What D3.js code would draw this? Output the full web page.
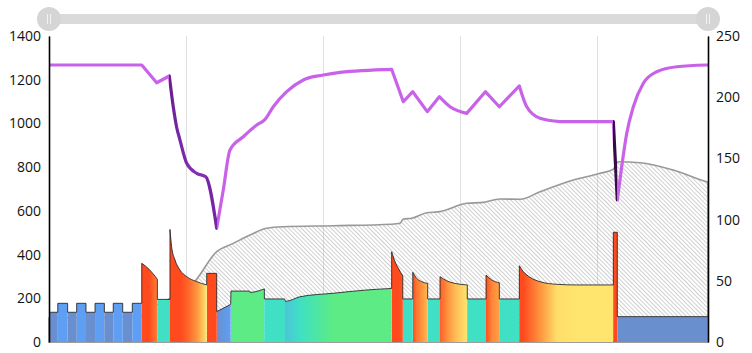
<!DOCTYPE html>
<html>
<head>
<meta charset="utf-8">
<script src="https://cdn.jsdelivr.net/npm/d3@7"></script>
<style>
  body { margin: 0; background: #fff; }
  svg { display: block; font-family: "Open Sans", sans-serif; }
</style>
</head>
<body>
<svg id="chart" width="752" height="353"></svg>
<script>
// x is elapsed minutes; left axis watts, right axis W'bal / profile
const timeMax = 48.1;
const gridMinutes = [10, 20, 30, 40];
const powerTicks = [0, 200, 400, 600, 800, 1000, 1200, 1400];
const rightTicks = [0, 50, 100, 150, 200, 250];

// power, one array per interval: [minute, watts]
const powerSegments = [
    [[0, 136], [0.64, 136]],
    [[0.64, 177], [1.36, 177]],
    [[1.36, 136], [2.02, 136]],
    [[2.02, 177], [2.70, 177]],
    [[2.70, 136], [3.36, 136]],
    [[3.36, 177], [4.04, 177]],
    [[4.04, 136], [4.69, 136]],
    [[4.69, 177], [5.38, 177]],
    [[5.38, 136], [6.08, 136]],
    [[6.08, 177], [6.77, 177]],
    [[6.77, 360], [7.30, 333], [7.91, 287]],
    [[7.91, 195], [8.83, 195]],
    [[8.83, 515], [8.95, 436], [9.20, 375], [9.56, 329], [10.05, 299], [10.78, 276], [11.51, 261]],
    [[11.51, 314], [12.24, 314]],
    [[12.24, 139], [13.26, 172]],
    [[13.28, 233], [14.64, 233], [14.68, 227], [15.72, 243]],
    [[15.72, 197], [17.20, 197], [17.26, 186], [18.32, 207], [20.75, 223], [23.20, 238], [25.01, 245]],
    [[25.01, 413], [25.26, 367], [25.50, 337], [25.82, 302]],
    [[25.82, 197], [26.55, 197]],
    [[26.55, 319], [26.84, 291], [27.20, 276], [27.64, 268]],
    [[27.64, 197], [28.54, 197]],
    [[28.54, 299], [29.03, 280], [29.64, 268], [30.53, 261]],
    [[30.53, 197], [31.90, 197]],
    [[31.90, 306], [32.31, 284], [32.87, 271]],
    [[32.87, 197], [34.33, 197]],
    [[34.33, 349], [34.62, 322], [35.11, 296], [35.84, 276], [37.06, 264], [38.50, 261], [41.19, 261]],
    [[41.19, 502], [41.48, 502]],
    [[41.48, 116], [48.10, 116]]
];

// zone breakpoints (watts) used for colouring the power fill
const zoneWatts = [125, 140, 150, 180, 190, 212, 222, 250, 256, 263, 272, 290, 306];

// hatched profile, right axis
const profile = [
    [0, 19.6], [6.64, 21.2], [7.88, 30.2], [9.20, 37.6], [10.53, 48.0], [12.24, 73.8],
    [13.45, 80.6], [14.67, 87.4], [15.89, 92.9], [17.08, 94.2], [20.73, 95.0], [25.01, 96.2],
    [25.62, 97.0], [25.86, 100.5], [26.47, 101.1], [27.57, 105.6], [28.54, 106.5], [30.49, 113.3],
    [31.70, 114.1], [32.92, 116.8], [34.38, 116.6], [35.84, 122.8], [38.27, 132.4], [40.22, 137.8],
    [41.19, 141.3], [41.55, 147.3], [43.14, 146.5], [45.57, 140.5], [48.00, 131.0], [48.10, 130.7]
];

// W' balance, right axis
const wbal = [
    [0, 226.3], [6.77, 226.3], [7.86, 211.8], [8.78, 217.3], [9.07, 192.2], [9.31, 175.9],
    [9.56, 165.0], [10.05, 146.0], [10.78, 137.8], [11.44, 135.0], [12.24, 92.9], [12.72, 124.2],
    [13.21, 156.9], [14.18, 167.7], [15.16, 177.3], [15.77, 181.9], [16.37, 192.2], [17.35, 204.5],
    [18.56, 214.1], [20.02, 218.1], [21.24, 220.3], [25.01, 222.8], [25.86, 196.3], [26.55, 204.5],
    [27.61, 188.2], [28.49, 200.4], [29.27, 192.2], [30.49, 186.8], [31.85, 204.5], [32.87, 192.2],
    [34.33, 209.2], [34.87, 192.2], [35.84, 182.8], [37.30, 180.0], [41.19, 180.0], [41.48, 116.0],
    [41.80, 143.2], [42.17, 170.5], [42.65, 192.2], [43.38, 211.4], [44.36, 220.8], [45.82, 224.9],
    [48.00, 226.3], [48.10, 226.3]
];
// stretches where W' is drained hard
const wbalDrain = [[8.78, 12.24], [41.19, 41.48]];

const margin = { top: 36, right: 44, bottom: 11, left: 49 };
const svg = d3.select("#chart");
const width = +svg.attr("width") - margin.left - margin.right;
const height = +svg.attr("height") - margin.top - margin.bottom;

const x = d3.scaleLinear().domain([0, timeMax]).range([0, width]);
const y = d3.scaleLinear().domain([0, 1400]).range([height, 0]);
const yR = d3.scaleLinear().domain([0, 250]).range([height, 0]);

const zoneColor = d3.scaleLinear()
    .domain(zoneWatts)
    .range(["#6a8fcf", "#6a8fcf", "#5e9ff4", "#5e9ff4", "#3fe0c4", "#3fe0c4", "#5ceb84", "#5ceb84",
        "#ffe56d", "#ffe56d", "#ff9a40", "#ff7a34", "#ff4a1e"])
    .clamp(true);

const purpleLight = "#c862e8";
const drainColor = d3.scaleLinear().domain([-250, -60, 0])
    .range(["#2a0838", "#7424a2", "#8630b4"]).clamp(true);

const defs = svg.append("defs");

// hatch
const hatch = defs.append("pattern")
    .attr("id", "hatch")
    .attr("patternUnits", "userSpaceOnUse")
    .attr("width", 3).attr("height", 3)
    .attr("patternTransform", "rotate(-45)");
hatch.append("line")
    .attr("x1", 0).attr("y1", 0).attr("x2", 0).attr("y2", 3)
    .attr("stroke", "#8a8a8a").attr("stroke-width", 0.8);

// power fill gradient, stops at every point
const powerGrad = defs.append("linearGradient")
    .attr("id", "power-grad")
    .attr("gradientUnits", "userSpaceOnUse")
    .attr("x1", 0).attr("x2", width).attr("y1", 0).attr("y2", 0);
powerSegments.flat().forEach(d => {
    powerGrad.append("stop")
        .attr("offset", x(d[0]) / width)
        .attr("stop-color", zoneColor(d[1]));
});

// W'bal stroke gradient, one colour per segment
const wbalGrad = defs.append("linearGradient")
    .attr("id", "wbal-grad")
    .attr("gradientUnits", "userSpaceOnUse")
    .attr("x1", 0).attr("x2", width).attr("y1", 0).attr("y2", 0);
for (let i = 0; i < wbal.length - 1; i++) {
    let p = wbal[i], q = wbal[i + 1];
    let mid = (p[0] + q[0]) / 2;
    let slope = (q[1] - p[1]) / (q[0] - p[0]);
    let draining = wbalDrain.some(([a, b]) => mid >= a && mid <= b);
    let col = draining ? drainColor(slope) : purpleLight;
    wbalGrad.append("stop").attr("offset", x(p[0]) / width).attr("stop-color", col);
    wbalGrad.append("stop").attr("offset", x(q[0]) / width).attr("stop-color", col);
}

// split a series at its turning points so each piece stays monotone (keeps the cusps sharp)
function splitAtTurns(points) {
    let pieces = [[points[0]]];
    let sign = d => Math.sign(d);
    for (let i = 1; i < points.length; i++) {
        pieces[pieces.length - 1].push(points[i]);
        if (i < points.length - 1) {
            let s0 = sign(points[i][1] - points[i - 1][1]);
            let s1 = sign(points[i + 1][1] - points[i][1]);
            if (s0 !== s1) pieces.push([points[i]]);
        }
    }
    return pieces;
}
function joinPaths(pieces, gen) {
    return pieces.map((p, i) => {
        let d = gen(p);
        return i === 0 ? d : "L" + d.slice(1);
    }).join("");
}

const g = svg.append("g").attr("transform", `translate(${margin.left},${margin.top})`);

// vertical grid
g.append("g")
    .attr("transform", `translate(0,${height})`)
    .call(d3.axisBottom(x).tickValues(gridMinutes).tickSize(-height).tickFormat(""))
    .call(a => a.select(".domain").attr("stroke", "#aaa"))
    .call(a => a.selectAll(".tick line").attr("stroke", "#e0e0e0"));

// hatched profile
g.append("path")
    .datum(profile)
    .attr("fill", "url(#hatch)")
    .attr("stroke", "#999")
    .attr("stroke-width", 1.6)
    .attr("d", d3.area()
        .x(d => x(d[0]))
        .y0(height)
        .y1(d => yR(d[1]))
        .curve(d3.curveMonotoneX));

// power intervals
const powerArea = d3.area()
    .x(d => x(d[0]))
    .y0(height)
    .y1(d => y(d[1]))
    .curve(d3.curveMonotoneX);
g.append("g")
    .selectAll("path")
    .data(powerSegments)
    .join("path")
    .attr("fill", "url(#power-grad)")
    .attr("d", powerArea);

const powerLine = d3.line()
    .x(d => x(d[0]))
    .y(d => y(d[1]))
    .curve(d3.curveMonotoneX);
g.append("path")
    .attr("d", joinPaths(powerSegments, powerLine))
    .attr("fill", "none")
    .attr("stroke", "#222")
    .attr("stroke-opacity", 0.85)
    .attr("stroke-width", 1);

// W' balance
const wbalLine = d3.line()
    .x(d => x(d[0]))
    .y(d => yR(d[1]))
    .curve(d3.curveMonotoneX);
g.append("path")
    .attr("d", joinPaths(splitAtTurns(wbal), wbalLine))
    .attr("fill", "none")
    .attr("stroke", "url(#wbal-grad)")
    .attr("stroke-width", 3.2)
    .attr("stroke-linejoin", "round");

// axes
const fmt = d3.format("d");
g.append("g")
    .call(d3.axisLeft(y).tickValues(powerTicks).tickFormat(fmt).tickSize(0).tickPadding(8))
    .call(a => a.select(".domain").attr("stroke", "#000").attr("stroke-width", 1.6))
    .call(a => a.selectAll("text").attr("font-size", 14).attr("fill", "#111").attr("font-family", "Open Sans, sans-serif"));

g.append("g")
    .attr("transform", `translate(${width},0)`)
    .call(d3.axisRight(yR).tickValues(rightTicks).tickFormat(fmt).tickSize(0).tickPadding(8))
    .call(a => a.select(".domain").attr("stroke", "#000").attr("stroke-width", 1.6))
    .call(a => a.selectAll("text").attr("font-size", 14).attr("fill", "#111").attr("font-family", "Open Sans, sans-serif"));

// range slider on top
const slider = svg.append("g").attr("transform", `translate(${margin.left},19)`);
slider.append("rect")
    .attr("x", x(0)).attr("y", -5)
    .attr("width", x(timeMax) - x(0)).attr("height", 10)
    .attr("fill", "#dadada");
const handles = slider.selectAll("g.handle")
    .data([0, timeMax])
    .join("g")
    .attr("class", "handle")
    .attr("transform", d => `translate(${x(d)},0)`);
handles.append("circle").attr("r", 12).attr("fill", "#d5d5d5");
handles.selectAll("line")
    .data([-1.5, 1.5])
    .join("line")
    .attr("x1", d => d).attr("x2", d => d)
    .attr("y1", -5).attr("y2", 5)
    .attr("stroke", "#f2f2f2").attr("stroke-width", 1);
</script>
</body>
</html>
